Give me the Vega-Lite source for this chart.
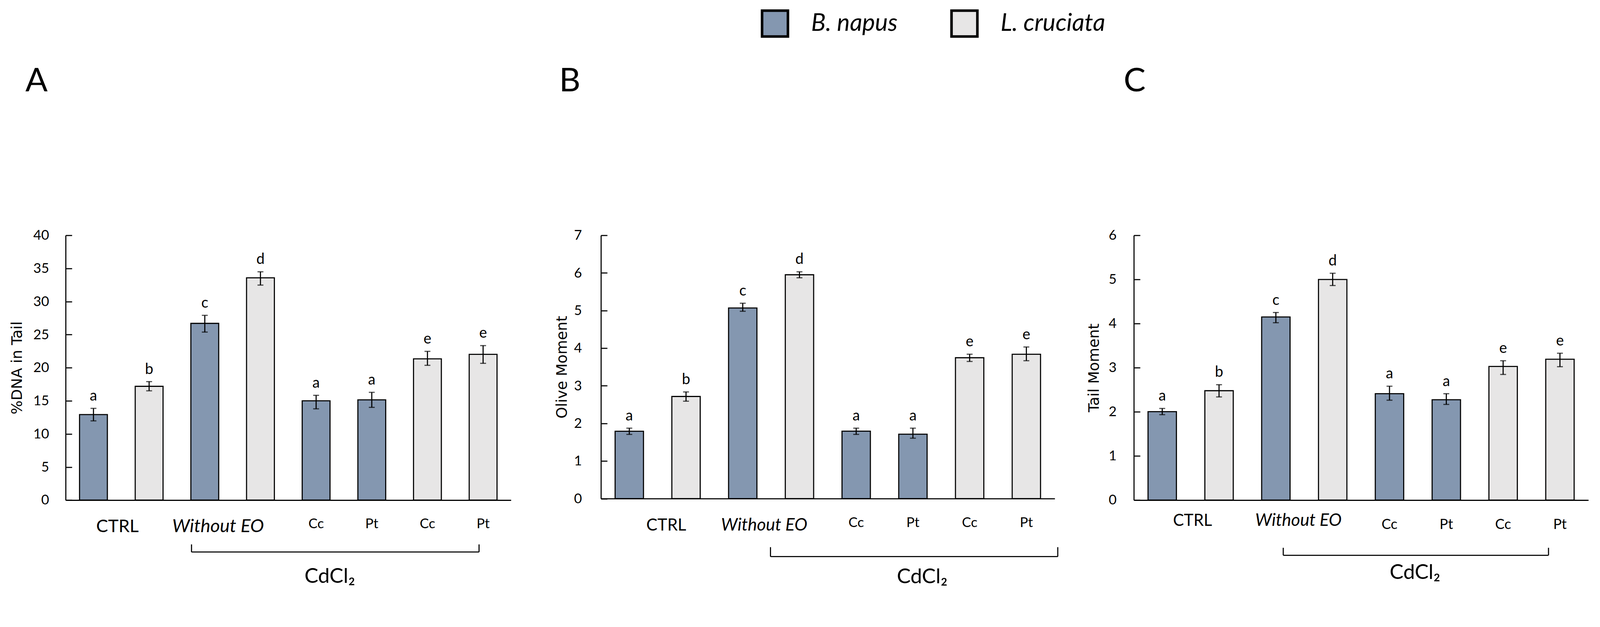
{
  "$schema": "https://vega.github.io/schema/vega-lite/v6.json",
  "padding": {"left": 25, "top": 23.7, "right": 0, "bottom": 0},
  "datasets": {
    "A": [
      {"key": "CTRL|B", "species": "B. napus", "value": 12.92, "lo": 11.97, "hi": 13.86, "letter": "a"},
      {"key": "CTRL|L", "species": "L. cruciata", "value": 17.19, "lo": 16.51, "hi": 17.9, "letter": "b"},
      {"key": "WEO|B", "species": "B. napus", "value": 26.7, "lo": 25.38, "hi": 27.91, "letter": "c"},
      {"key": "WEO|L", "species": "L. cruciata", "value": 33.58, "lo": 32.48, "hi": 34.49, "letter": "d"},
      {"key": "Cc|B", "species": "B. napus", "value": 15.0, "lo": 13.79, "hi": 15.83, "letter": "a"},
      {"key": "Pt|B", "species": "B. napus", "value": 15.15, "lo": 14.01, "hi": 16.28, "letter": "a"},
      {"key": "Cc|L", "species": "L. cruciata", "value": 21.34, "lo": 20.36, "hi": 22.47, "letter": "e"},
      {"key": "Pt|L", "species": "L. cruciata", "value": 22.02, "lo": 20.66, "hi": 23.34, "letter": "e"}
    ],
    "B": [
      {"key": "CTRL|B", "species": "B. napus", "value": 1.79, "lo": 1.707, "hi": 1.873, "letter": "a"},
      {"key": "CTRL|L", "species": "L. cruciata", "value": 2.716, "lo": 2.59, "hi": 2.836, "letter": "b"},
      {"key": "WEO|B", "species": "B. napus", "value": 5.067, "lo": 4.981, "hi": 5.194, "letter": "c"},
      {"key": "WEO|L", "species": "L. cruciata", "value": 5.951, "lo": 5.871, "hi": 6.03, "letter": "d"},
      {"key": "Cc|B", "species": "B. napus", "value": 1.793, "lo": 1.707, "hi": 1.873, "letter": "a"},
      {"key": "Pt|B", "species": "B. napus", "value": 1.713, "lo": 1.607, "hi": 1.873, "letter": "a"},
      {"key": "Cc|L", "species": "L. cruciata", "value": 3.746, "lo": 3.646, "hi": 3.839, "letter": "e"},
      {"key": "Pt|L", "species": "L. cruciata", "value": 3.839, "lo": 3.666, "hi": 4.031, "letter": "e"}
    ],
    "C": [
      {"key": "CTRL|B", "species": "B. napus", "value": 2.004, "lo": 1.936, "hi": 2.077, "letter": "a"},
      {"key": "CTRL|L", "species": "L. cruciata", "value": 2.479, "lo": 2.338, "hi": 2.615, "letter": "b"},
      {"key": "WEO|B", "species": "B. napus", "value": 4.149, "lo": 4.019, "hi": 4.251, "letter": "c"},
      {"key": "WEO|L", "species": "L. cruciata", "value": 4.998, "lo": 4.862, "hi": 5.14, "letter": "d"},
      {"key": "Cc|B", "species": "B. napus", "value": 2.411, "lo": 2.264, "hi": 2.581, "letter": "a"},
      {"key": "Pt|B", "species": "B. napus", "value": 2.275, "lo": 2.168, "hi": 2.411, "letter": "a"},
      {"key": "Cc|L", "species": "L. cruciata", "value": 3.028, "lo": 2.847, "hi": 3.158, "letter": "e"},
      {"key": "Pt|L", "species": "L. cruciata", "value": 3.192, "lo": 3.023, "hi": 3.328, "letter": "e"}
    ],
    "groups": [{"ctrl": "CTRL", "weo": "Without EO", "cd": "CdCl₂", "from": "WEO|B", "to": "Pt|L"}]
  },
  "spacing": 72.6,
  "hconcat": [
    {
      "spacing": 112.4,
      "hconcat": [
        {
          "width": 1140,
          "height": 678.3,
          "title": {"text": "A", "anchor": "start", "frame": "group", "dx": -103, "offset": 267, "baseline": "alphabetic", "fontSize": 84.2, "fontWeight": "normal", "font": "Lato", "color": "black"},
          "data": {"name": "A"},
          "layer": [
            {
              "mark": {"type": "bar", "stroke": "black", "strokeWidth": 2.8},
              "encoding": {
                "x": {"field": "key", "type": "nominal", "title": null,
                  "scale": {"domain": ["CTRL|B","CTRL|L","WEO|B","WEO|L","Cc|B","Pt|B","Cc|L","Pt|L"], "paddingInner": 0.5, "paddingOuter": 0.25},
                  "axis": {"ticks": false, "domainWidth": 2.8, "labelAngle": 0, "labelLimit": 0, "labelOverlap": false, "labelFont": "Lato", "labelFontSize": 35, "labelBaseline": "alphabetic", "labelPadding": 71.9,
                    "labelExpr": "(datum.value == 'Cc|B' || datum.value == 'Cc|L') ? 'Cc' : (datum.value == 'Pt|B' || datum.value == 'Pt|L') ? 'Pt' : ''"}},
                "y": {"field": "value", "type": "quantitative", "title": "%DNA in Tail", "scale": {"domain": [0, 40], "nice": false},
                  "axis": {"tickCount": 8, "tickSize": -16.1, "tickWidth": 2.8, "domainWidth": 2.8, "labelFontSize": 35, "labelPadding": 58.7, "titleFont": "DejaVu Sans", "titleFontSize": 37.8, "titleFontWeight": "normal", "titlePadding": 21.4}},
                "color": {"field": "species", "type": "nominal", "scale": {"domain": ["B. napus", "L. cruciata"], "range": ["#8497B0", "#E7E6E6"]}, "legend": {"title": null}}
              }
            },
            {
              "mark": {"type": "rule", "strokeWidth": 2.8, "color": "black"},
              "encoding": {
                "x": {"field": "key", "type": "nominal", "title": null, "scale": {"domain": ["CTRL|B","CTRL|L","WEO|B","WEO|L","Cc|B","Pt|B","Cc|L","Pt|L"]}},
                "y": {"field": "lo", "type": "quantitative", "title": "%DNA in Tail", "scale": {"domain": [0, 40], "nice": false}},
                "y2": {"field": "hi"}
              }
            },
            {
              "mark": {"type": "tick", "orient": "horizontal", "size": 15.1, "thickness": 2.8, "color": "black"},
              "encoding": {
                "x": {"field": "key", "type": "nominal", "title": null, "scale": {"domain": ["CTRL|B","CTRL|L","WEO|B","WEO|L","Cc|B","Pt|B","Cc|L","Pt|L"]}},
                "y": {"field": "lo", "type": "quantitative", "title": "%DNA in Tail", "scale": {"domain": [0, 40], "nice": false}}
              }
            },
            {
              "mark": {"type": "tick", "orient": "horizontal", "size": 15.1, "thickness": 2.8, "color": "black"},
              "encoding": {
                "x": {"field": "key", "type": "nominal", "title": null, "scale": {"domain": ["CTRL|B","CTRL|L","WEO|B","WEO|L","Cc|B","Pt|B","Cc|L","Pt|L"]}},
                "y": {"field": "hi", "type": "quantitative", "title": "%DNA in Tail", "scale": {"domain": [0, 40], "nice": false}}
              }
            },
            {
              "mark": {"type": "text", "baseline": "alphabetic", "dy": -19.9, "fontSize": 37.8, "color": "black", "font": "Lato"},
              "encoding": {
                "x": {"field": "key", "type": "nominal", "title": null, "scale": {"domain": ["CTRL|B","CTRL|L","WEO|B","WEO|L","Cc|B","Pt|B","Cc|L","Pt|L"]}},
                "y": {"field": "hi", "type": "quantitative", "title": "%DNA in Tail", "scale": {"domain": [0, 40], "nice": false}},
                "text": {"field": "letter"}
              }
            },
            {
              "data": {"name": "groups"},
              "mark": {"type": "text", "baseline": "alphabetic", "dx": 61.5, "fontSize": 45.4, "color": "black", "font": "Lato"},
              "encoding": {
                "x": {"datum": "CTRL|B", "type": "nominal", "title": null, "scale": {"domain": ["CTRL|B","CTRL|L","WEO|B","WEO|L","Cc|B","Pt|B","Cc|L","Pt|L"]}},
                "y": {"datum": -4.85, "type": "quantitative", "title": "%DNA in Tail", "scale": {"domain": [0, 40], "nice": false}},
                "text": {"field": "ctrl"}
              }
            },
            {
              "data": {"name": "groups"},
              "mark": {"type": "text", "baseline": "alphabetic", "dx": 34, "fontSize": 47.3, "fontStyle": "italic", "color": "black", "font": "Lato"},
              "encoding": {
                "x": {"datum": "WEO|B", "type": "nominal", "title": null, "scale": {"domain": ["CTRL|B","CTRL|L","WEO|B","WEO|L","Cc|B","Pt|B","Cc|L","Pt|L"]}},
                "y": {"datum": -4.85, "type": "quantitative", "title": "%DNA in Tail", "scale": {"domain": [0, 40], "nice": false}},
                "text": {"field": "weo"}
              }
            },
            {
              "data": {"name": "groups"},
              "mark": {"type": "rule", "strokeWidth": 2.8, "color": "black", "xOffset": -34, "x2Offset": -10.4},
              "encoding": {
                "x": {"field": "from", "type": "nominal", "title": null, "scale": {"domain": ["CTRL|B","CTRL|L","WEO|B","WEO|L","Cc|B","Pt|B","Cc|L","Pt|L"]}},
                "x2": {"field": "to"},
                "y": {"datum": -7.84, "type": "quantitative", "title": "%DNA in Tail", "scale": {"domain": [0, 40], "nice": false}}
              }
            },
            {
              "data": {"name": "groups"},
              "mark": {"type": "rule", "strokeWidth": 2.8, "color": "black", "xOffset": -34},
              "encoding": {
                "x": {"field": "from", "type": "nominal", "title": null, "scale": {"domain": ["CTRL|B","CTRL|L","WEO|B","WEO|L","Cc|B","Pt|B","Cc|L","Pt|L"]}},
                "y": {"datum": -7.84, "type": "quantitative", "title": "%DNA in Tail", "scale": {"domain": [0, 40], "nice": false}},
                "y2": {"datum": -6.69}
              }
            },
            {
              "data": {"name": "groups"},
              "mark": {"type": "rule", "strokeWidth": 2.8, "color": "black", "xOffset": -10.4},
              "encoding": {
                "x": {"field": "to", "type": "nominal", "title": null, "scale": {"domain": ["CTRL|B","CTRL|L","WEO|B","WEO|L","Cc|B","Pt|B","Cc|L","Pt|L"]}},
                "y": {"datum": -7.84, "type": "quantitative", "title": "%DNA in Tail", "scale": {"domain": [0, 40], "nice": false}},
                "y2": {"datum": -6.69}
              }
            },
            {
              "data": {"name": "groups"},
              "mark": {"type": "text", "baseline": "alphabetic", "dx": 35, "fontSize": 53, "color": "black", "font": "Lato"},
              "encoding": {
                "x": {"datum": "Cc|B", "type": "nominal", "title": null, "scale": {"domain": ["CTRL|B","CTRL|L","WEO|B","WEO|L","Cc|B","Pt|B","Cc|L","Pt|L"]}},
                "y": {"datum": -12.49, "type": "quantitative", "title": "%DNA in Tail", "scale": {"domain": [0, 40], "nice": false}},
                "text": {"field": "cd"}
              }
            }
          ]
        },
        {
          "width": 1161.7,
          "height": 674.5,
          "title": {"text": "B", "anchor": "start", "frame": "group", "dx": -107, "offset": 267, "baseline": "alphabetic", "fontSize": 84.2, "fontWeight": "normal", "font": "Lato", "color": "black"},
          "data": {"name": "B"},
          "layer": [
            {
              "mark": {"type": "bar", "stroke": "black", "strokeWidth": 2.8},
              "encoding": {
                "x": {"field": "key", "type": "nominal", "title": null,
                  "scale": {"domain": ["CTRL|B","CTRL|L","WEO|B","WEO|L","Cc|B","Pt|B","Cc|L","Pt|L"], "paddingInner": 0.5, "paddingOuter": 0.25},
                  "axis": {"ticks": false, "domainWidth": 2.8, "labelAngle": 0, "labelLimit": 0, "labelOverlap": false, "labelFont": "Lato", "labelFontSize": 35, "labelBaseline": "alphabetic", "labelPadding": 72.8,
                    "labelExpr": "(datum.value == 'Cc|B' || datum.value == 'Cc|L') ? 'Cc' : (datum.value == 'Pt|B' || datum.value == 'Pt|L') ? 'Pt' : ''"}},
                "y": {"field": "value", "type": "quantitative", "title": "Olive Moment", "scale": {"domain": [0, 7], "nice": false},
                  "axis": {"tickCount": 7, "tickSize": -16.1, "tickWidth": 2.8, "domainWidth": 2.8, "labelFontSize": 35, "labelPadding": 65.3, "titleFont": "DejaVu Sans", "titleFontSize": 37.8, "titleFontWeight": "normal", "titlePadding": 10.5}},
                "color": {"field": "species", "type": "nominal", "scale": {"domain": ["B. napus", "L. cruciata"], "range": ["#8497B0", "#E7E6E6"]}, "legend": {"title": null}}
              }
            },
            {
              "mark": {"type": "rule", "strokeWidth": 2.8, "color": "black"},
              "encoding": {
                "x": {"field": "key", "type": "nominal", "title": null, "scale": {"domain": ["CTRL|B","CTRL|L","WEO|B","WEO|L","Cc|B","Pt|B","Cc|L","Pt|L"]}},
                "y": {"field": "lo", "type": "quantitative", "title": "Olive Moment", "scale": {"domain": [0, 7], "nice": false}},
                "y2": {"field": "hi"}
              }
            },
            {
              "mark": {"type": "tick", "orient": "horizontal", "size": 15.1, "thickness": 2.8, "color": "black"},
              "encoding": {
                "x": {"field": "key", "type": "nominal", "title": null, "scale": {"domain": ["CTRL|B","CTRL|L","WEO|B","WEO|L","Cc|B","Pt|B","Cc|L","Pt|L"]}},
                "y": {"field": "lo", "type": "quantitative", "title": "Olive Moment", "scale": {"domain": [0, 7], "nice": false}}
              }
            },
            {
              "mark": {"type": "tick", "orient": "horizontal", "size": 15.1, "thickness": 2.8, "color": "black"},
              "encoding": {
                "x": {"field": "key", "type": "nominal", "title": null, "scale": {"domain": ["CTRL|B","CTRL|L","WEO|B","WEO|L","Cc|B","Pt|B","Cc|L","Pt|L"]}},
                "y": {"field": "hi", "type": "quantitative", "title": "Olive Moment", "scale": {"domain": [0, 7], "nice": false}}
              }
            },
            {
              "mark": {"type": "text", "baseline": "alphabetic", "dy": -19.9, "fontSize": 37.8, "color": "black", "font": "Lato"},
              "encoding": {
                "x": {"field": "key", "type": "nominal", "title": null, "scale": {"domain": ["CTRL|B","CTRL|L","WEO|B","WEO|L","Cc|B","Pt|B","Cc|L","Pt|L"]}},
                "y": {"field": "hi", "type": "quantitative", "title": "Olive Moment", "scale": {"domain": [0, 7], "nice": false}},
                "text": {"field": "letter"}
              }
            },
            {
              "data": {"name": "groups"},
              "mark": {"type": "text", "baseline": "alphabetic", "dx": 94.6, "fontSize": 42.6, "color": "black", "font": "Lato"},
              "encoding": {
                "x": {"datum": "CTRL|B", "type": "nominal", "title": null, "scale": {"domain": ["CTRL|B","CTRL|L","WEO|B","WEO|L","Cc|B","Pt|B","Cc|L","Pt|L"]}},
                "y": {"datum": -0.854, "type": "quantitative", "title": "Olive Moment", "scale": {"domain": [0, 7], "nice": false}},
                "text": {"field": "ctrl"}
              }
            },
            {
              "data": {"name": "groups"},
              "mark": {"type": "text", "baseline": "alphabetic", "dx": 54.9, "fontSize": 44.5, "fontStyle": "italic", "color": "black", "font": "Lato"},
              "encoding": {
                "x": {"datum": "WEO|B", "type": "nominal", "title": null, "scale": {"domain": ["CTRL|B","CTRL|L","WEO|B","WEO|L","Cc|B","Pt|B","Cc|L","Pt|L"]}},
                "y": {"datum": -0.854, "type": "quantitative", "title": "Olive Moment", "scale": {"domain": [0, 7], "nice": false}},
                "text": {"field": "weo"}
              }
            },
            {
              "data": {"name": "groups"},
              "mark": {"type": "rule", "strokeWidth": 2.8, "color": "black", "xOffset": 71, "x2Offset": 80.4},
              "encoding": {
                "x": {"field": "from", "type": "nominal", "title": null, "scale": {"domain": ["CTRL|B","CTRL|L","WEO|B","WEO|L","Cc|B","Pt|B","Cc|L","Pt|L"]}},
                "x2": {"field": "to"},
                "y": {"datum": -1.54, "type": "quantitative", "title": "Olive Moment", "scale": {"domain": [0, 7], "nice": false}}
              }
            },
            {
              "data": {"name": "groups"},
              "mark": {"type": "rule", "strokeWidth": 2.8, "color": "black", "xOffset": 71},
              "encoding": {
                "x": {"field": "from", "type": "nominal", "title": null, "scale": {"domain": ["CTRL|B","CTRL|L","WEO|B","WEO|L","Cc|B","Pt|B","Cc|L","Pt|L"]}},
                "y": {"datum": -1.54, "type": "quantitative", "title": "Olive Moment", "scale": {"domain": [0, 7], "nice": false}},
                "y2": {"datum": -1.29}
              }
            },
            {
              "data": {"name": "groups"},
              "mark": {"type": "rule", "strokeWidth": 2.8, "color": "black", "xOffset": 80.4},
              "encoding": {
                "x": {"field": "to", "type": "nominal", "title": null, "scale": {"domain": ["CTRL|B","CTRL|L","WEO|B","WEO|L","Cc|B","Pt|B","Cc|L","Pt|L"]}},
                "y": {"datum": -1.54, "type": "quantitative", "title": "Olive Moment", "scale": {"domain": [0, 7], "nice": false}},
                "y2": {"datum": -1.29}
              }
            },
            {
              "data": {"name": "groups"},
              "mark": {"type": "text", "baseline": "alphabetic", "dx": 23.7, "fontSize": 53, "color": "black", "font": "Lato"},
              "encoding": {
                "x": {"datum": "Pt|B", "type": "nominal", "title": null, "scale": {"domain": ["CTRL|B","CTRL|L","WEO|B","WEO|L","Cc|B","Pt|B","Cc|L","Pt|L"]}},
                "y": {"datum": -2.25, "type": "quantitative", "title": "Olive Moment", "scale": {"domain": [0, 7], "nice": false}},
                "text": {"field": "cd"}
              }
            }
          ]
        }
      ]
    },
    {
      "width": 1163.6,
      "height": 678.3,
      "title": {"text": "C", "anchor": "start", "frame": "group", "dx": -26, "offset": 267, "baseline": "alphabetic", "fontSize": 84.2, "fontWeight": "normal", "font": "Lato", "color": "black"},
      "data": {"name": "C"},
      "layer": [
        {
          "mark": {"type": "bar", "stroke": "black", "strokeWidth": 2.8},
          "encoding": {
            "x": {"field": "key", "type": "nominal", "title": null,
              "scale": {"domain": ["CTRL|B","CTRL|L","WEO|B","WEO|L","Cc|B","Pt|B","Cc|L","Pt|L"], "paddingInner": 0.5, "paddingOuter": 0.25},
              "axis": {"ticks": false, "domainWidth": 2.8, "labelAngle": 0, "labelLimit": 0, "labelOverlap": false, "labelFont": "Lato", "labelFontSize": 36, "labelBaseline": "alphabetic", "labelPadding": 73.8,
                "labelExpr": "(datum.value == 'Cc|B' || datum.value == 'Cc|L') ? 'Cc' : (datum.value == 'Pt|B' || datum.value == 'Pt|L') ? 'Pt' : ''"}},
            "y": {"field": "value", "type": "quantitative", "title": "Tail Moment", "scale": {"domain": [0, 6], "nice": false},
              "axis": {"tickCount": 6, "tickSize": -16.1, "tickWidth": 2.8, "domainWidth": 2.8, "labelFontSize": 35, "labelPadding": 60.6, "titleFont": "DejaVu Sans", "titleFontSize": 37.8, "titleFontWeight": "normal", "titlePadding": 17.1}},
            "color": {"field": "species", "type": "nominal", "scale": {"domain": ["B. napus", "L. cruciata"], "range": ["#8497B0", "#E7E6E6"]}, "legend": {"title": null}}
          }
        },
        {
          "mark": {"type": "rule", "strokeWidth": 2.8, "color": "black"},
          "encoding": {
            "x": {"field": "key", "type": "nominal", "title": null, "scale": {"domain": ["CTRL|B","CTRL|L","WEO|B","WEO|L","Cc|B","Pt|B","Cc|L","Pt|L"]}},
            "y": {"field": "lo", "type": "quantitative", "title": "Tail Moment", "scale": {"domain": [0, 6], "nice": false}},
            "y2": {"field": "hi"}
          }
        },
        {
          "mark": {"type": "tick", "orient": "horizontal", "size": 15.1, "thickness": 2.8, "color": "black"},
          "encoding": {
            "x": {"field": "key", "type": "nominal", "title": null, "scale": {"domain": ["CTRL|B","CTRL|L","WEO|B","WEO|L","Cc|B","Pt|B","Cc|L","Pt|L"]}},
            "y": {"field": "lo", "type": "quantitative", "title": "Tail Moment", "scale": {"domain": [0, 6], "nice": false}}
          }
        },
        {
          "mark": {"type": "tick", "orient": "horizontal", "size": 15.1, "thickness": 2.8, "color": "black"},
          "encoding": {
            "x": {"field": "key", "type": "nominal", "title": null, "scale": {"domain": ["CTRL|B","CTRL|L","WEO|B","WEO|L","Cc|B","Pt|B","Cc|L","Pt|L"]}},
            "y": {"field": "hi", "type": "quantitative", "title": "Tail Moment", "scale": {"domain": [0, 6], "nice": false}}
          }
        },
        {
          "mark": {"type": "text", "baseline": "alphabetic", "dy": -19.9, "fontSize": 37.8, "color": "black", "font": "Lato"},
          "encoding": {
            "x": {"field": "key", "type": "nominal", "title": null, "scale": {"domain": ["CTRL|B","CTRL|L","WEO|B","WEO|L","Cc|B","Pt|B","Cc|L","Pt|L"]}},
            "y": {"field": "hi", "type": "quantitative", "title": "Tail Moment", "scale": {"domain": [0, 6], "nice": false}},
            "text": {"field": "letter"}
          }
        },
        {
          "data": {"name": "groups"},
          "mark": {"type": "text", "baseline": "alphabetic", "dx": 77.6, "fontSize": 41.6, "color": "black", "font": "Lato"},
          "encoding": {
            "x": {"datum": "CTRL|B", "type": "nominal", "title": null, "scale": {"domain": ["CTRL|B","CTRL|L","WEO|B","WEO|L","Cc|B","Pt|B","Cc|L","Pt|L"]}},
            "y": {"datum": -0.586, "type": "quantitative", "title": "Tail Moment", "scale": {"domain": [0, 6], "nice": false}},
            "text": {"field": "ctrl"}
          }
        },
        {
          "data": {"name": "groups"},
          "mark": {"type": "text", "baseline": "alphabetic", "dx": 57.7, "fontSize": 44.5, "fontStyle": "italic", "color": "black", "font": "Lato"},
          "encoding": {
            "x": {"datum": "WEO|B", "type": "nominal", "title": null, "scale": {"domain": ["CTRL|B","CTRL|L","WEO|B","WEO|L","Cc|B","Pt|B","Cc|L","Pt|L"]}},
            "y": {"datum": -0.586, "type": "quantitative", "title": "Tail Moment", "scale": {"domain": [0, 6], "nice": false}},
            "text": {"field": "weo"}
          }
        },
        {
          "data": {"name": "groups"},
          "mark": {"type": "rule", "strokeWidth": 2.8, "color": "black", "xOffset": 18.9, "x2Offset": -29.3},
          "encoding": {
            "x": {"field": "from", "type": "nominal", "title": null, "scale": {"domain": ["CTRL|B","CTRL|L","WEO|B","WEO|L","Cc|B","Pt|B","Cc|L","Pt|L"]}},
            "x2": {"field": "to"},
            "y": {"datum": -1.25, "type": "quantitative", "title": "Tail Moment", "scale": {"domain": [0, 6], "nice": false}}
          }
        },
        {
          "data": {"name": "groups"},
          "mark": {"type": "rule", "strokeWidth": 2.8, "color": "black", "xOffset": 18.9},
          "encoding": {
            "x": {"field": "from", "type": "nominal", "title": null, "scale": {"domain": ["CTRL|B","CTRL|L","WEO|B","WEO|L","Cc|B","Pt|B","Cc|L","Pt|L"]}},
            "y": {"datum": -1.25, "type": "quantitative", "title": "Tail Moment", "scale": {"domain": [0, 6], "nice": false}},
            "y2": {"datum": -1.08}
          }
        },
        {
          "data": {"name": "groups"},
          "mark": {"type": "rule", "strokeWidth": 2.8, "color": "black", "xOffset": -29.3},
          "encoding": {
            "x": {"field": "to", "type": "nominal", "title": null, "scale": {"domain": ["CTRL|B","CTRL|L","WEO|B","WEO|L","Cc|B","Pt|B","Cc|L","Pt|L"]}},
            "y": {"datum": -1.25, "type": "quantitative", "title": "Tail Moment", "scale": {"domain": [0, 6], "nice": false}},
            "y2": {"datum": -1.08}
          }
        },
        {
          "data": {"name": "groups"},
          "mark": {"type": "text", "baseline": "alphabetic", "dx": 65.3, "fontSize": 53, "color": "black", "font": "Lato"},
          "encoding": {
            "x": {"datum": "Cc|B", "type": "nominal", "title": null, "scale": {"domain": ["CTRL|B","CTRL|L","WEO|B","WEO|L","Cc|B","Pt|B","Cc|L","Pt|L"]}},
            "y": {"datum": -1.79, "type": "quantitative", "title": "Tail Moment", "scale": {"domain": [0, 6], "nice": false}},
            "text": {"field": "cd"}
          }
        }
      ]
    }
  ],
  "config": {
    "font": "Lato",
    "view": {"stroke": null},
    "axis": {"grid": false, "labelColor": "black", "titleColor": "black", "domainColor": "black", "tickColor": "black", "labelFont": "Lato"},
    "legend": {
      "orient": "none", "legendX": 1779.5, "legendY": -578.9, "direction": "horizontal",
      "symbolType": "square", "symbolSize": 4382, "symbolStrokeWidth": 6.6, "symbolStrokeColor": "black", "symbolOpacity": 1,
      "labelFont": "Lato", "labelFontStyle": "italic", "labelFontSize": 62, "labelOffset": 56, "labelColor": "black", "labelLimit": 0,
      "columnPadding": 124
    }
  }
}
